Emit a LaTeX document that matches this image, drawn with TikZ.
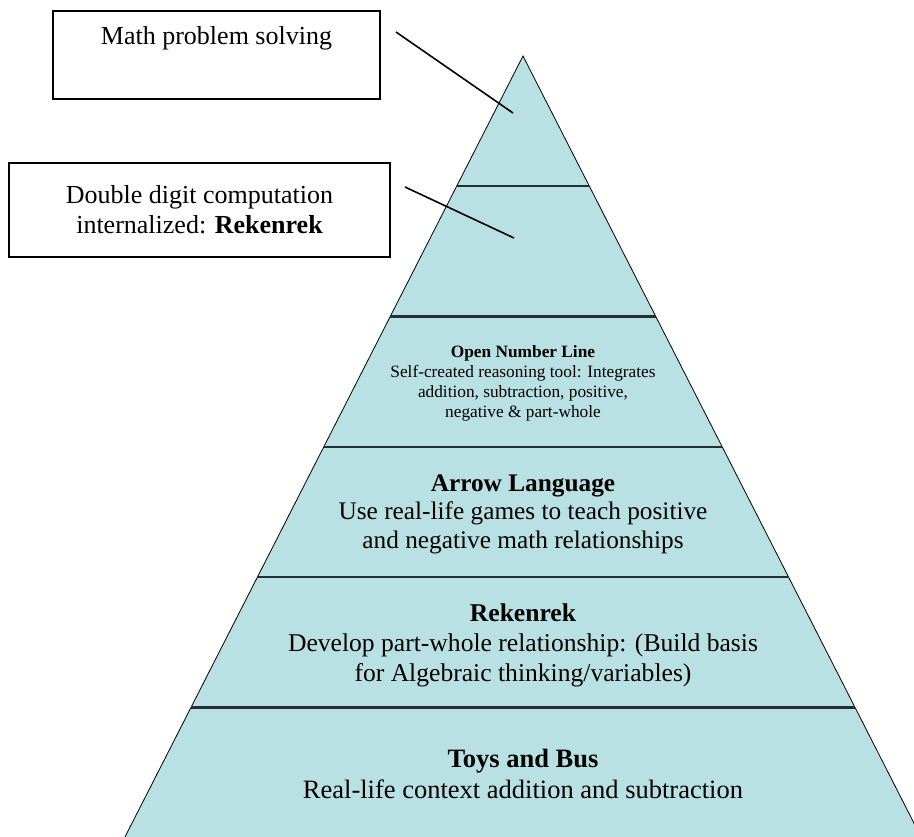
\documentclass[tikz,border=0pt]{standalone}
\usepackage{fontspec}
\setmainfont{Liberation Serif}

\definecolor{pyrblue}{RGB}{185,224,227}
\definecolor{divgray}{RGB}{35,48,50}

\begin{document}
\begin{tikzpicture}[x=1pt, y=-1pt,
    callout/.style={draw, line width=1.6pt, align=center, inner sep=0pt,
        font=\fontsize{26}{30}\selectfont},
    layertext/.style={align=center, inner sep=0pt},
    divider/.style={line width=2.4pt, draw=divgray},
    pointer/.style={line width=1.6pt}]
\useasboundingbox (0, 0) rectangle (914, 837);
\clip (0, 0) rectangle (914, 837);

% Draw pyramid.
\filldraw[fill=pyrblue, draw=black, line width=0.8pt]
(523, 56) -- (124.7, 837.5) -- (921.3, 837.5) -- cycle;

% Draw layer borders.
\foreach \y in {186.3, 316.5, 446.8, 577, 707.3}
    \draw[divider] ({523-0.5096*(\y-56)}, \y) -- ({523+0.5096*(\y-56)}, \y);

% Draw layer texts.
\node[layertext, font=\fontsize{17.3}{20}\selectfont] (onl) at (523, 383)
    {\textbf{Open Number Line}\\Self-created reasoning tool: Integrates\\
     addition, subtraction, positive,\\negative \& part-whole};
\node[layertext, font=\fontsize{25.3}{28.5}\selectfont] (arrow) at (523, 514)
    {\textbf{Arrow Language}\\Use real-life games to teach positive\\
     and negative math relationships};
\node[layertext, font=\fontsize{25.6}{30}\selectfont] (rek) at (523, 645)
    {\textbf{Rekenrek}\\Develop part-whole relationship: (Build basis\\
     for Algebraic thinking/variables)};
\node[layertext, font=\fontsize{26.5}{31}\selectfont] (toys) at (523, 774)
    {\textbf{Toys and Bus}\\Real-life context addition and subtraction};

% Draw callouts.
\node[callout, minimum width=327pt, minimum height=88pt] (mps) at (216.5, 55)
    {Math problem solving\\\strut};
\node[callout, minimum width=381pt, minimum height=94pt] (ddc) at (199.5, 210)
    {Double digit computation\\internalized: \textbf{Rekenrek}};

\coordinate (mpsfrom) at (396, 32);
\coordinate (mpsto) at (513, 113);
\coordinate (ddcfrom) at (405, 187);
\coordinate (ddcto) at (514, 238);
\draw[pointer] (mpsfrom) -- (mpsto);
\draw[pointer] (ddcfrom) -- (ddcto);

\end{tikzpicture}
\end{document}
